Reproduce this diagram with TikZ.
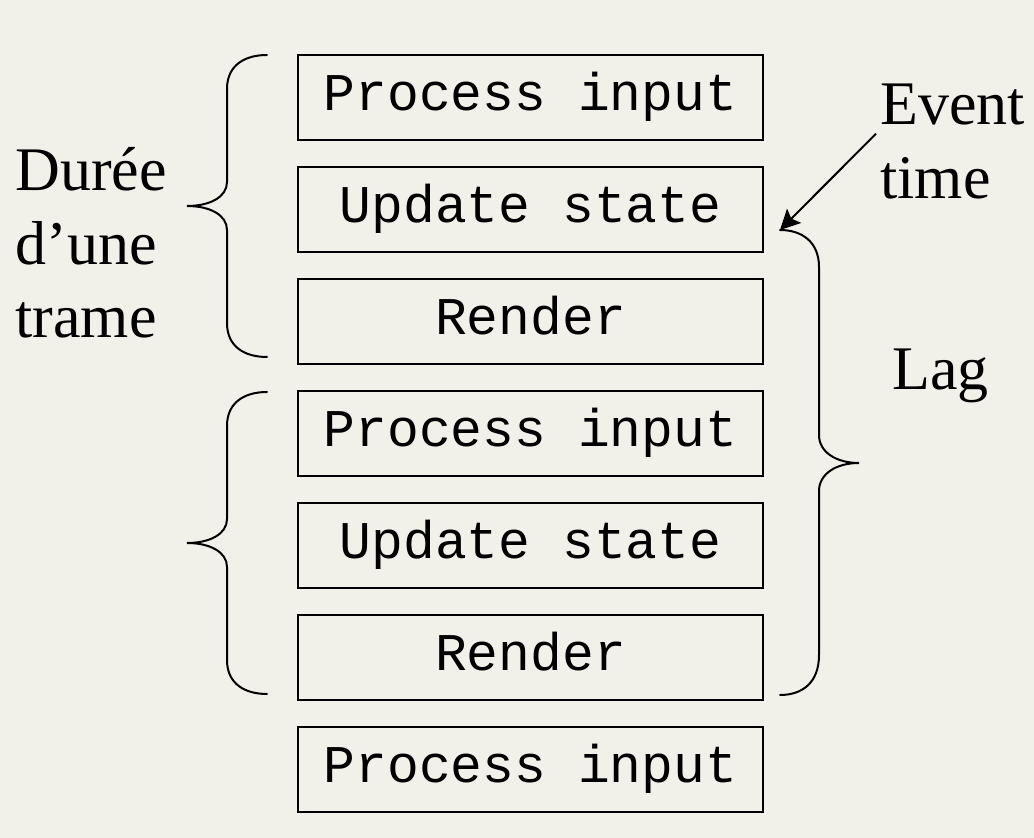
\documentclass[tikz,border=0pt]{standalone}
\usepackage{fontspec}
\setmainfont{Liberation Serif}
\setmonofont{Liberation Mono}
\usetikzlibrary{arrows.meta,positioning}
\definecolor{paper}{RGB}{242,241,233}

\begin{document}
\begin{tikzpicture}[
  x=0.5pt,y=-0.5pt,
  >={Stealth[length=10pt,width=10pt,inset=2pt]},
  stage/.style={draw,line width=1pt,minimum width=232.5pt,minimum height=42.5pt,inner sep=0pt,outer sep=0pt,
    font=\fontsize{26.5pt}{30pt}\ttfamily,text height=16pt,text depth=2.5pt},
  side/.style={align=left,inner sep=0pt,font=\fontsize{31pt}{36.75pt}\selectfont},
  curly/.style={line width=1pt,line cap=round}
]
  \path[fill=paper,use as bounding box] (0,0) rectangle (1034,838);

  \node[stage] (in1) at (530.5,97.5) {Process input};
  \node[stage,below=13.5pt of in1] (up1) {Update state};
  \node[stage,below=13.5pt of up1] (re1) {Render};
  \node[stage,below=13.5pt of re1] (in2) {Process input};
  \node[stage,below=13.5pt of in2] (up2) {Update state};
  \node[stage,below=13.5pt of up2] (re2) {Render};
  \node[stage,below=13.5pt of re2] (in3) {Process input};

  % one brace per frame
  \draw[curly] (267,55) .. controls (245,55) and (227,65) .. (227,89)
    -- (227,182) .. controls (227,197) and (210,206) .. (187,206)
    .. controls (210,206) and (227,215) .. (227,230)
    -- (227,323) .. controls (227,347) and (245,357) .. (267,357);
  \draw[curly] (267,392) .. controls (245,392) and (227,402) .. (227,426)
    -- (227,519) .. controls (227,534) and (210,543) .. (187,543)
    .. controls (210,543) and (227,552) .. (227,567)
    -- (227,660) .. controls (227,684) and (245,694) .. (267,694);

  % lag brace
  \coordinate (lagtop) at (780,230);
  \draw[curly] (lagtop) .. controls (802,230) and (819,242) .. (819,267)
    -- (819,435) .. controls (819,452) and (836,463) .. (859,463)
    .. controls (836,463) and (819,474) .. (819,491)
    -- (819,655) .. controls (819,683) and (802,695) .. (780,695);

  \node[side,anchor=north west] (frame) at (15,147) {Durée\\d’une\\trame};
  \node[side,anchor=north west] (ev) at (880,84) {Event\\time};
  \node[side,anchor=base west] (lag) at (892,390) {Lag};

  \draw[->,line width=1pt] ([xshift=-2pt,yshift=4pt]ev.west) -- (lagtop);
\end{tikzpicture}
\end{document}
